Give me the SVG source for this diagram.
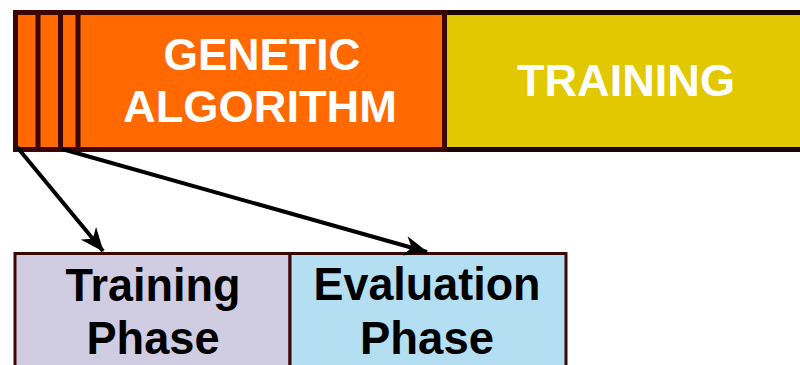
<svg xmlns="http://www.w3.org/2000/svg" width="800" height="365" viewBox="0 0 800 365">
<defs>
<style>
.bord{stroke:#3a0606;stroke-width:5;}
.wt{font-family:"Liberation Sans",Arial,sans-serif;font-weight:bold;fill:#ffffff;font-size:45px;text-anchor:middle;}
.bt{font-family:"Liberation Sans",Arial,sans-serif;font-weight:bold;fill:#000000;font-size:46px;text-anchor:middle;}
.conn{stroke:#000;stroke-width:4;fill:none;}
</style>
<marker id="ah" viewBox="0 0 24 20" refX="23" refY="10" markerWidth="24" markerHeight="20" markerUnits="userSpaceOnUse" orient="auto">
<path d="M0,0 L24,10 L0,20 L7,10 Z" fill="#000"/>
</marker>
</defs>
<rect width="800" height="365" fill="#ffffff"/>
<g id="training-top">
<rect x="444.5" y="12.5" width="370" height="137" fill="#e1c800" stroke="#1a0505" stroke-width="5"/>
<text class="wt" x="626" y="96" textLength="218" lengthAdjust="spacingAndGlyphs">TRAINING</text>
</g>
<g id="genetic-algorithm">
<rect x="15.5" y="12.5" width="429" height="137" fill="#ff6900" class="bord"/>
<line x1="38" y1="12.5" x2="38" y2="149.5" class="bord"/>
<line x1="60.5" y1="12.5" x2="60.5" y2="149.5" class="bord"/>
<line x1="78" y1="12.5" x2="78" y2="149.5" class="bord"/>
<text class="wt" x="262" y="70" textLength="197" lengthAdjust="spacingAndGlyphs">GENETIC</text>
<text class="wt" x="260" y="122" textLength="274" lengthAdjust="spacingAndGlyphs">ALGORITHM</text>
</g>
<g id="training-phase">
<rect x="15" y="253.5" width="275" height="120" fill="#d0cde3" stroke="#3a0606" stroke-width="3"/>
<text class="bt" x="153" y="301" textLength="175" lengthAdjust="spacingAndGlyphs">Training</text>
<text class="bt" x="153" y="354" textLength="133" lengthAdjust="spacingAndGlyphs">Phase</text>
</g>
<g id="evaluation-phase">
<rect x="290" y="253.5" width="276" height="120" fill="#b4def1" stroke="#3a0606" stroke-width="3"/>
<text class="bt" x="427" y="300" textLength="227" lengthAdjust="spacingAndGlyphs">Evaluation</text>
<text class="bt" x="427" y="354" textLength="134" lengthAdjust="spacingAndGlyphs">Phase</text>
</g>
<g id="connectors">
<line x1="17" y1="147" x2="103" y2="251" class="conn" marker-end="url(#ah)"/>
<line x1="62" y1="149" x2="427" y2="252" class="conn" marker-end="url(#ah)"/>
</g>
</svg>
